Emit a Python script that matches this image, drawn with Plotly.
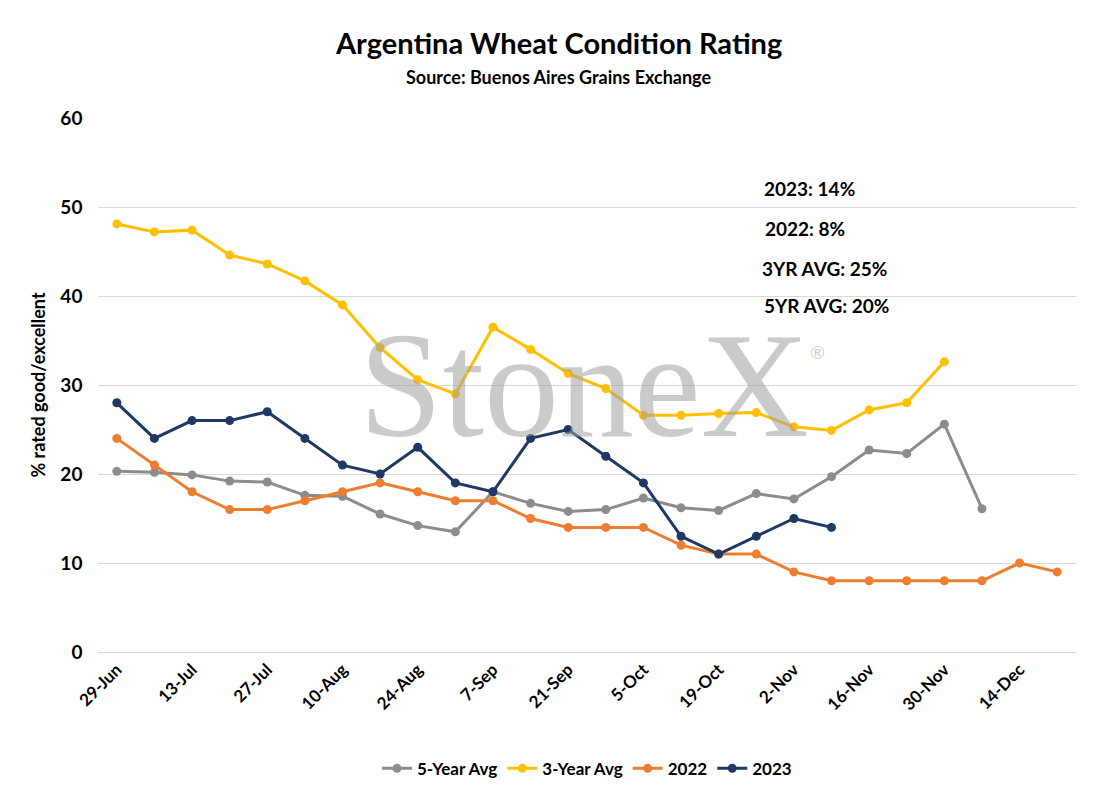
import plotly.graph_objects as go

dates = ["29-Jun","6-Jul","13-Jul","20-Jul","27-Jul","3-Aug","10-Aug","17-Aug","24-Aug","31-Aug",
         "7-Sep","14-Sep","21-Sep","28-Sep","5-Oct","12-Oct","19-Oct","26-Oct","2-Nov","9-Nov",
         "16-Nov","23-Nov","30-Nov","7-Dec","14-Dec","21-Dec"]
tick_labels = dates[::2]
avg5 = [20.3,20.2,19.9,19.2,19.1,17.6,17.5,15.5,14.2,13.5,18,16.7,15.8,16,17.3,16.2,15.9,17.8,17.2,19.7,22.7,22.3,25.6,16.1]
avg3 = [48.1,47.2,47.4,44.6,43.6,41.7,39,34.2,30.6,29,36.5,34,31.3,29.6,26.6,26.6,26.8,26.9,25.3,24.9,27.2,28,32.6]
y2022 = [24,21,18,16,16,17,18,19,18,17,17,15,14,14,14,12,11,11,9,8,8,8,8,8,10,9]
y2023 = [28,24,26,26,27,24,21,20,23,19,18,24,25,22,19,13,11,13,15,14]

series = [("<b>5-Year Avg</b>", avg5, "#8c8c8c"), ("<b>3-Year Avg</b>", avg3, "#ffc000"),
          ("<b>2022</b>", y2022, "#ed7d31"), ("<b>2023</b>", y2023, "#1f3864")]

OFF = 8  # page offset
L, R, T, B = 90, 48, 110, 157
W, H = 1116, 801
fig = go.Figure()
for name, vals, col in series:
    fig.add_trace(go.Scatter(x=dates[:len(vals)], y=vals, name=name, mode="lines+markers",
                             line=dict(color=col, width=3), marker=dict(color=col, size=9)))

font = "Lato"
fig.update_layout(
    width=W, height=H, paper_bgcolor="white", plot_bgcolor="white",
    margin=dict(l=L, r=R, t=T, b=B, autoexpand=False),
    font=dict(family=font, color="black"),
    xaxis=dict(type="category", categoryorder="array", categoryarray=dates, range=[-0.5, 25.5],
               tickmode="array", tickvals=tick_labels, ticktext=["<b>%s</b>" % t for t in tick_labels],
               tickangle=-45, automargin=False,
               tickfont=dict(size=17, family=font), showgrid=False, showline=True,
               linecolor="#d9d9d9", ticks=""),
    yaxis=dict(range=[0, 60], dtick=10, showgrid=True, gridcolor="#d9d9d9", zeroline=False,
               automargin=False, tickfont=dict(size=19, family=font),
               tickvals=[0,10,20,30,40,50,60], ticktext=["<b>%d</b>   " % v for v in range(0,61,10)],
               title=dict(text="<b>% rated good/excellent</b>", font=dict(size=18), standoff=10)),
    legend=dict(orientation="h", x=0.5, xanchor="center", y=-0.185, yanchor="top",
                font=dict(size=17), traceorder="normal"),
    showlegend=True,
)
def px(x): return (x - OFF - L) / (W - L - R)
def py(y): return 1 - (y - OFF - T) / (H - T - B)
def ann(text, x, y, size, xa="center", **kw):
    fig.add_annotation(text=text, xref="paper", yref="paper", x=px(x), y=py(y), showarrow=False,
                       xanchor=xa, yanchor="middle", font=dict(size=size, **kw))
ann("<b>Argentina Wheat Condition Rating</b>", 558, 42, 29)
ann("<b>Source: Buenos Aires Grains Exchange</b>", 558, 77, 18)
ann("StoneX", 584, 385, 150, family="Liberation Serif", color="rgba(160,160,160,0.55)")
ann("®", 817, 352, 18, color="rgba(160,160,160,0.55)")
for txt, x, y in [("2023: 14%", 762, 188), ("2022: 8%", 763, 229), ("3YR AVG: 25%", 760, 268), ("5YR AVG: 20%", 762, 305)]:
    ann("<b>"+txt+"</b>", x, y, 19, xa="left")
fig.write_html("out.html")
